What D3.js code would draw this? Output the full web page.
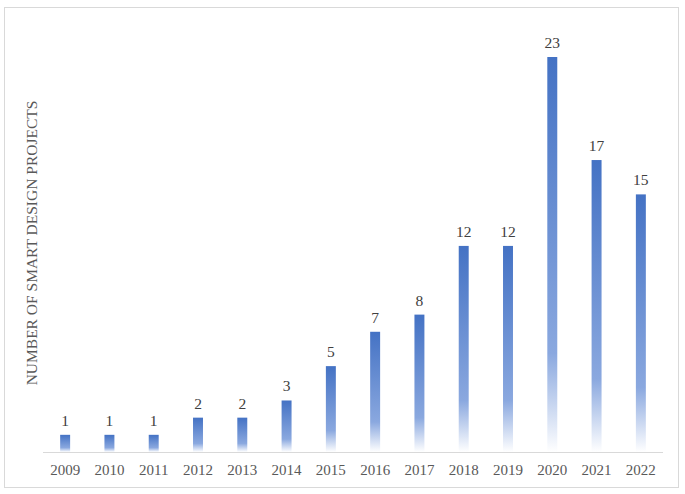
<!DOCTYPE html>
<html>
<head>
<meta charset="utf-8">
<script src="https://cdn.jsdelivr.net/npm/d3@7"></script>
<style>
  body { margin: 0; background: #fff; }
  svg { display: block; }
</style>
</head>
<body>
<div id="chart"></div>
<script>
const years = ["2009", "2010", "2011", "2012", "2013", "2014", "2015", "2016", "2017", "2018", "2019", "2020", "2021", "2022"]
const projects = [1, 1, 1, 2, 2, 3, 5, 7, 8, 12, 12, 23, 17, 15]
const yTitle = "NUMBER OF SMART DESIGN PROJECTS"

const width = 685
const height = 494
const margin = { left: 43, right: 22, top: 57, bottom: 42 }
const baseY = 452
const serif = 'Liberation Serif, Times New Roman, serif'

const svg = d3.select('#chart').append('svg').attr('width', width).attr('height', height)

// outer frame
svg.append('rect')
    .attr('x', 4.5).attr('y', 7.5)
    .attr('width', 674).attr('height', 480)
    .attr('fill', '#fff')
    .attr('stroke', '#d9d9d9')

const defs = svg.append('defs')
const grad = defs.append('linearGradient')
    .attr('id', 'barGrad')
    .attr('x1', 0).attr('y1', 0).attr('x2', 0).attr('y2', 1)
grad.append('stop').attr('offset', '0%').attr('stop-color', '#4472c4')
grad.append('stop').attr('offset', '75%').attr('stop-color', '#8aa8df')
grad.append('stop').attr('offset', '100%').attr('stop-color', '#ffffff')

const xScale = d3.scaleBand()
    .domain(years)
    .range([margin.left, width - margin.right])
    .paddingInner(0.775)
    .paddingOuter(0.3875)

const yScale = d3.scaleLinear()
    .domain([0, 23])
    .range([baseY, margin.top])

svg.selectAll('rect.bar').data(projects)
    .enter()
    .append('rect')
    .attr('class', 'bar')
    .attr('x', function(d, i) { return xScale(years[i]) })
    .attr('width', xScale.bandwidth())
    .attr('y', function(d) { return yScale(d) })
    .attr('height', function(d) { return baseY - yScale(d) })
    .attr('fill', 'url(#barGrad)')

svg.selectAll('text.val').data(projects)
    .enter()
    .append('text')
    .attr('class', 'val')
    .attr('x', function(d, i) { return xScale(years[i]) + xScale.bandwidth() / 2 })
    .attr('y', function(d) { return yScale(d) - 9 })
    .attr('text-anchor', 'middle')
    .attr('font-family', serif)
    .attr('font-size', '15.5px')
    .attr('fill', '#404040')
    .text(function(d) { return d })

const xAxis = d3.axisBottom(xScale).tickSize(0)
const gx = svg.append('g')
    .attr('transform', 'translate(0,' + baseY + ')')
    .call(xAxis)
gx.select('.domain').attr('stroke', '#d9d9d9').attr('d', 'M' + margin.left + ',0.5H' + (width - margin.right))
gx.selectAll('text')
    .attr('y', 23)
    .attr('dy', 0)
    .attr('font-family', serif)
    .attr('font-size', '15px')
    .attr('fill', '#595959')

svg.append('text')
    .attr('transform', 'translate(37,243) rotate(-90)')
    .attr('text-anchor', 'middle')
    .attr('font-family', serif)
    .attr('font-size', '15.5px')
    .attr('fill', '#595959')
    .text(yTitle)
</script>
</body>
</html>
